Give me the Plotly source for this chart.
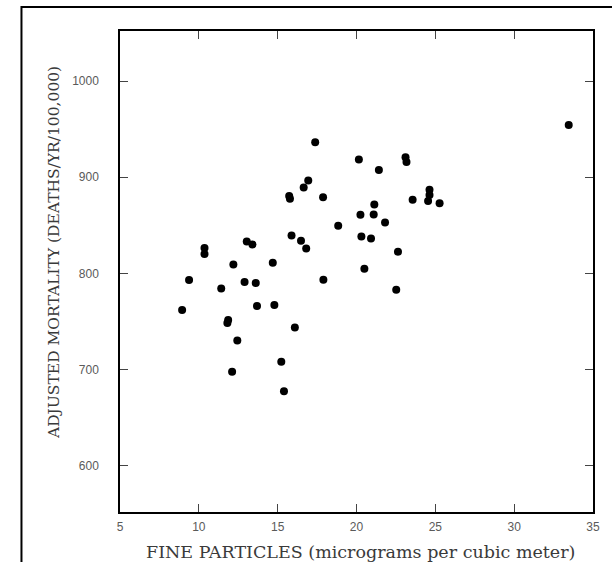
import plotly.graph_objects as go

# Fine particles (micrograms per cubic meter)
fine_particles = [
    17.38, 16.65, 16.94, 15.73, 15.78, 17.88, 18.84, 15.88, 16.48, 16.81,
    13.04, 13.40, 10.36, 10.36, 12.19, 14.69, 9.38, 12.90, 13.61, 11.42,
    17.90, 8.94, 13.69, 14.79, 11.86, 11.81, 16.09, 12.44, 15.23, 12.11,
    15.40,
    33.46, 20.15, 23.11, 23.17, 21.42, 24.63, 24.63, 24.54, 23.56, 25.27,
    21.13, 20.25, 21.09, 21.81, 20.31, 20.92, 22.63, 20.50, 22.52,
]
# Adjusted mortality (deaths/yr/100,000)
mortality = [
    936.3, 889.2, 896.5, 880.6, 877.5, 879.3, 849.5, 839.4, 833.9, 825.9,
    833.2, 830.1, 826.3, 820.3, 809.3, 811.1, 793.2, 791.1, 790.0, 784.4,
    793.5, 762.0, 766.2, 767.2, 751.7, 748.5, 743.7, 730.2, 708.1, 697.7,
    677.6,
    954.2, 918.3, 920.7, 915.9, 907.6, 887.1, 881.6, 875.4, 876.5, 873.0,
    871.6, 860.9, 861.2, 852.9, 838.4, 836.3, 822.5, 804.9, 783.1,
]

x_ticks = [5, 10, 15, 20, 25, 30, 35]
y_ticks = [600, 700, 800, 900, 1000]

x_title = "FINE PARTICLES (micrograms per cubic meter)"
y_title = "ADJUSTED MORTALITY (DEATHS/YR/100,000)"

fig = go.Figure()
fig.add_trace(go.Scatter(
    x=fine_particles, y=mortality, mode="markers",
    marker=dict(color="black", size=8, line=dict(width=0)),
    showlegend=False, hoverinfo="x+y",
))

tick_font = dict(family="Liberation Sans, Arial, sans-serif", size=12, color="#5a5a5a")
x_title_font = dict(family="DejaVu Serif, serif", size=17.5, color="#3a3a3a")
y_title_font = dict(family="DejaVu Serif, serif", size=15.5, color="#3a3a3a")

fig.update_layout(
    width=612, height=562,
    margin=dict(l=120, r=12, t=31, b=50),
    paper_bgcolor="white", plot_bgcolor="white",
    xaxis=dict(
        range=[5, 35], tickvals=x_ticks, ticktext=[str(v) for v in x_ticks],
        ticks="inside", ticklen=8, tickwidth=1, tickcolor="#444444",
        showline=True, linecolor="black", linewidth=1.5, mirror="ticks",
        showgrid=False, zeroline=False, tickfont=tick_font,
        ticklabelstandoff=3,
    ),
    yaxis=dict(
        range=[552, 1052], tickvals=y_ticks, ticktext=[str(v) for v in y_ticks],
        ticks="inside", ticklen=8, tickwidth=1, tickcolor="#444444",
        showline=True, linecolor="black", linewidth=1.5, mirror="ticks",
        showgrid=False, zeroline=False, tickfont=tick_font,
        ticklabelstandoff=17,
    ),
    annotations=[
        dict(text=x_title, xref="paper", yref="paper", x=0.508, y=-0.083,
             xanchor="center", yanchor="middle", showarrow=False, font=x_title_font),
        dict(text=y_title, xref="paper", yref="paper", x=-0.14, y=0.54,
             xanchor="center", yanchor="middle", showarrow=False, textangle=-90,
             font=y_title_font),
    ],
    shapes=[
        dict(type="rect", xref="paper", yref="paper",
             x0=-0.2083, x1=1.1, y0=-0.15, y1=1.05,
             line=dict(color="black", width=2), fillcolor="rgba(0,0,0,0)", layer="above"),
    ],
)

fig.write_html("out.html")
